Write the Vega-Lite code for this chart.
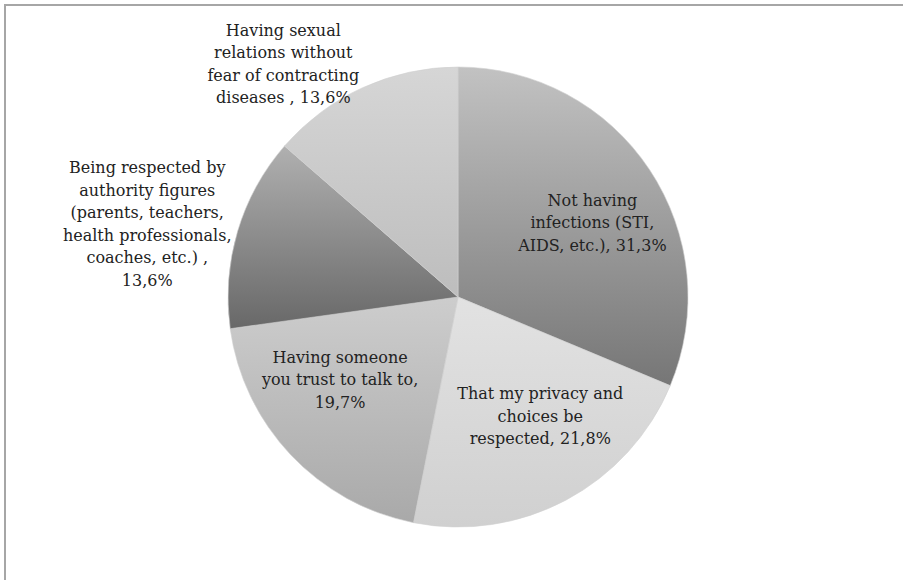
{
  "$schema": "https://vega.github.io/schema/vega-lite/v6.json",
  "width": 906,
  "height": 584,
  "autosize": "none",
  "padding": {"left": 5, "top": 5, "right": 0, "bottom": 0},
  "background": "white",
  "view": {"stroke": "#a6a6a6", "strokeWidth": 2},
  "data": {
    "values": [
      {"order": 1, "category": "Not having infections", "label": "Not having\ninfections (STI,\nAIDS, etc.), 31,3%", "pct": 31.3},
      {"order": 2, "category": "Privacy", "label": "That my privacy and\nchoices be\nrespected, 21,8%", "pct": 21.8},
      {"order": 3, "category": "Trust", "label": "Having someone\nyou trust to talk to,\n19,7%", "pct": 19.7},
      {"order": 4, "category": "Authority", "label": "Being respected by\nauthority figures\n(parents, teachers,\nhealth professionals,\ncoaches, etc.)  ,\n13,6%", "pct": 13.6},
      {"order": 5, "category": "Sexual", "label": "Having sexual\nrelations without\nfear of contracting\ndiseases , 13,6%", "pct": 13.6}
    ]
  },
  "encoding": {
    "theta": {"field": "pct", "type": "quantitative", "stack": true},
    "order": {"field": "order", "type": "quantitative", "sort": "ascending"}
  },
  "layer": [
    {
      "mark": {"type": "arc", "radius": 230, "stroke": "#d0d0d0", "strokeWidth": 0.6},
      "encoding": {
        "color": {
          "condition": [
            {"test": "datum.category === 'Not having infections'", "value": {"gradient": "linear", "x1": 0, "y1": 0, "x2": 0, "y2": 1, "stops": [{"offset": 0, "color": "#c2c2c2"}, {"offset": 1, "color": "#767676"}]}},
            {"test": "datum.category === 'Privacy'", "value": {"gradient": "linear", "x1": 0, "y1": 0, "x2": 0, "y2": 1, "stops": [{"offset": 0, "color": "#e2e2e2"}, {"offset": 1, "color": "#d0d0d0"}]}},
            {"test": "datum.category === 'Trust'", "value": {"gradient": "linear", "x1": 0, "y1": 0, "x2": 0, "y2": 1, "stops": [{"offset": 0, "color": "#cdcdcd"}, {"offset": 1, "color": "#a9a9a9"}]}},
            {"test": "datum.category === 'Authority'", "value": {"gradient": "linear", "x1": 0, "y1": 0, "x2": 0, "y2": 1, "stops": [{"offset": 0, "color": "#b0b0b0"}, {"offset": 1, "color": "#686868"}]}}
          ],
          "value": {"gradient": "linear", "x1": 0, "y1": 0, "x2": 0, "y2": 1, "stops": [{"offset": 0, "color": "#d6d6d6"}, {"offset": 1, "color": "#bdbdbd"}]}
        }
      }
    },
    {
      "mark": {"type": "text", "radius": 153, "dx": 7, "dy": -11.5, "font": "DejaVu Serif", "fontSize": 16, "lineHeight": 22.5, "lineBreak": "\n", "align": "center", "baseline": "middle", "color": "#222222"},
      "encoding": {"text": {"condition": {"test": "datum.category === 'Not having infections'", "field": "label"}, "value": ""}}
    },
    {
      "mark": {"type": "text", "radius": 145, "dx": 14, "dy": -30.5, "font": "DejaVu Serif", "fontSize": 16, "lineHeight": 22.5, "lineBreak": "\n", "align": "center", "baseline": "middle", "color": "#222222"},
      "encoding": {"text": {"condition": {"test": "datum.category === 'Privacy'", "field": "label"}, "value": ""}}
    },
    {
      "mark": {"type": "text", "radius": 143, "dx": -14, "dy": -37.5, "font": "DejaVu Serif", "fontSize": 16, "lineHeight": 22.5, "lineBreak": "\n", "align": "center", "baseline": "middle", "color": "#222222"},
      "encoding": {"text": {"condition": {"test": "datum.category === 'Trust'", "field": "label"}, "value": ""}}
    },
    {
      "mark": {"type": "text", "radius": 319, "dx": -5, "dy": -38, "font": "DejaVu Serif", "fontSize": 16, "lineHeight": 22.5, "lineBreak": "\n", "align": "center", "baseline": "middle", "color": "#222222"},
      "encoding": {"text": {"condition": {"test": "datum.category === 'Authority'", "field": "label"}, "value": ""}}
    },
    {
      "mark": {"type": "text", "radius": 284, "dx": -57, "dy": -8, "font": "DejaVu Serif", "fontSize": 16, "lineHeight": 22.5, "lineBreak": "\n", "align": "center", "baseline": "middle", "color": "#222222"},
      "encoding": {"text": {"condition": {"test": "datum.category === 'Sexual'", "field": "label"}, "value": ""}}
    }
  ]
}
